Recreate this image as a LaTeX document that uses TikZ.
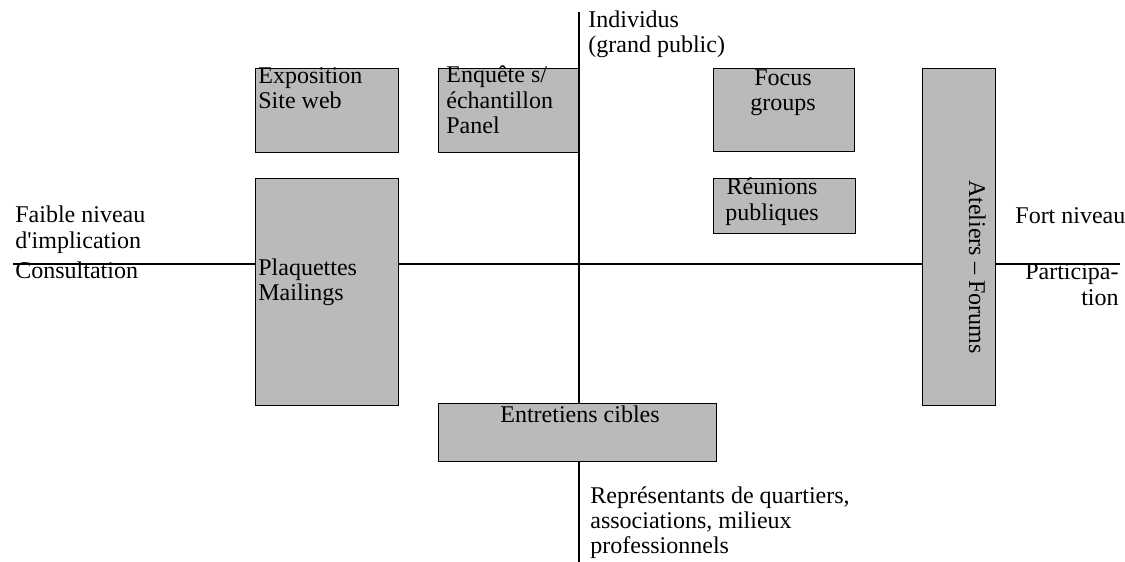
\documentclass[tikz,border=0pt]{standalone}
\usepackage{fontspec}
\setmainfont{Liberation Serif}[Ligatures=TeXOff]
\begin{document}
\begin{tikzpicture}[x=0.5pt,y=-0.5pt,
  box/.style={draw=black, line width=0.7pt, fill=black!27, inner sep=0pt, anchor=north west},
  axis/.style={draw=black, line width=0.7pt},
  txt/.style={inner sep=0pt, font=\fontsize{12}{13}\selectfont},
  intxt/.style={inner sep=0pt, font=\fontsize{12}{12.5}\selectfont}]
\useasboundingbox (0,0) rectangle (1125,562);
% axes
\coordinate (hl) at (13,264);
\coordinate (hr) at (1120,264);
\coordinate (vt) at (579,12);
\coordinate (vb) at (579,562);
\draw[axis] (hl) -- (hr);
\draw[axis] (vt) -- (vb);
% boxes
\node[box, minimum width=71.5pt, minimum height=42pt] (expo) at (255,68) {};
\node[box, minimum width=70pt, minimum height=42pt] (enq) at (438,68) {};
\node[box, minimum width=70.5pt, minimum height=41.5pt] (focus) at (713,68) {};
\node[box, minimum width=71pt, minimum height=27.5pt] (reun) at (713,178) {};
\node[box, minimum width=71.5pt, minimum height=113.5pt] (plaq) at (255,178) {};
\node[box, minimum width=139pt, minimum height=29pt] (ent) at (438,403) {};
\node[box, minimum width=36.5pt, minimum height=168.5pt] (atel) at (922,68) {};
% box texts (base anchor = baseline of last line)
\node[intxt, anchor=base west, align=left] (texpo) at (258,108) {Exposition\\Site web};
\node[intxt, anchor=base west, align=left] (tenq) at (446,133) {Enquête s/\\échantillon\\Panel};
\node[intxt, anchor=base, align=center] (tfocus) at (783,110) {Focus\\groups};
\node[txt, anchor=base, align=center] (treun) at (772,220) {Réunions\\publiques};
\node[intxt, anchor=base west, align=left] (tplaq) at (258,300) {Plaquettes\\Mailings};
\node[intxt, anchor=base] (tent) at (580,422) {Entretiens cibles};
\node[intxt, anchor=base, rotate=-90] (tatel) at (969,267) {Ateliers – Forums};
% axis labels
\node[txt, anchor=base west, align=left] (indiv) at (588,53) {Individus\\(grand public)};
\node[txt, anchor=base west, align=left] (faible) at (15,248) {Faible niveau\\d'implication};
\node[txt, anchor=base west] (consult) at (15,278) {Consultation};
\node[txt, anchor=base west] (fort) at (1015,223) {Fort niveau};
\node[txt, anchor=base east, align=right] (partic) at (1119,305) {Participa-\\tion};
\node[intxt, anchor=base west, align=left] (repr) at (590,553) {Représentants de quartiers,\\associations, milieux\\professionnels};
\end{tikzpicture}
\end{document}
